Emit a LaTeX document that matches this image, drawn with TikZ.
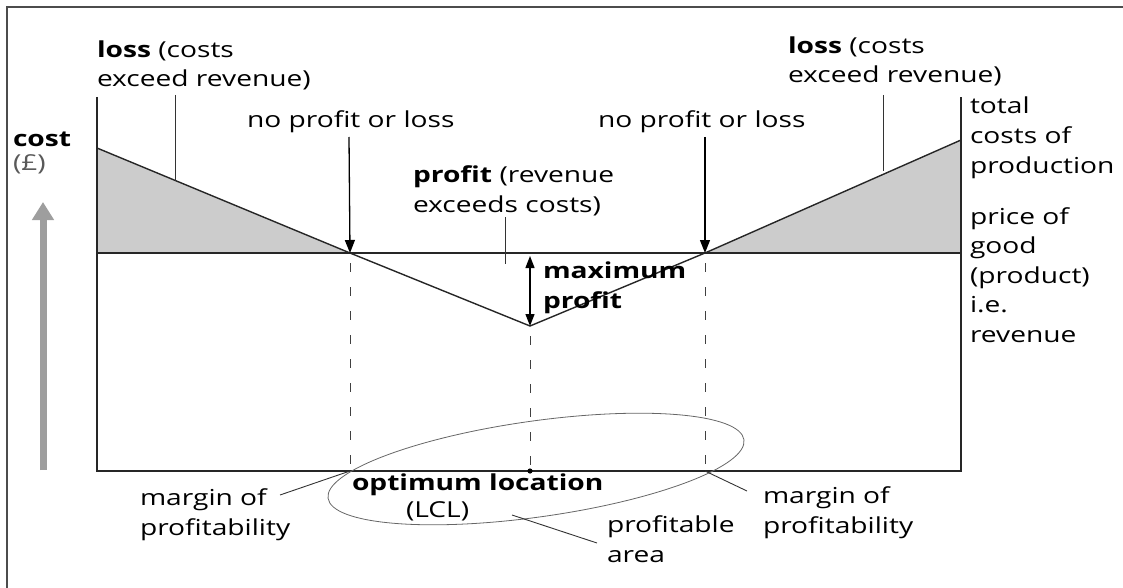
\documentclass[tikz,border=0pt]{standalone}
\usepackage{fontspec}
\setmainfont{Open Sans}[FakeStretch=1.28]
\usetikzlibrary{arrows.meta}
\begin{document}
\begin{tikzpicture}[x=1pt,y=-1pt,
  every node/.style={inner sep=0pt,outer sep=0pt,font=\fontsize{22}{29.5}\selectfont,align=left,anchor=base west},
  axisline/.style={line width=1.4pt,black!85},
  leader/.style={line width=0.9pt,black!80},
  callout/.style={line width=1.3pt,-{Triangle[width=10pt,length=13pt]}},
  guide/.style={line width=0.9pt,black!75,dash pattern=on 9pt off 15pt,dash phase=-10pt},
  lossfill/.style={fill=black!20}]
  \useasboundingbox (0,0) rectangle (1123,588);

  % outer frame
  \draw[line width=1.2pt,black!70] (7,588) -- (7,7) -- (1123,7);

  % key points of the diagram
  \coordinate (AxL) at (97,97);
  \coordinate (AxR) at (961,97);
  \coordinate (TL) at (97,148);
  \coordinate (TR) at (961,140);
  \coordinate (RL) at (97,253);
  \coordinate (RR) at (961,253);
  \coordinate (BE1) at (350,253);
  \coordinate (BE2) at (705,253);
  \coordinate (MIN) at (530,326);
  \coordinate (BL) at (97,471);
  \coordinate (BR) at (961,471);
  \coordinate (M1) at (350,471);
  \coordinate (M2) at (530,471);
  \coordinate (M3) at (705,471);

  % loss triangles
  \fill[lossfill] (TL) -- (BE1) -- (RL) -- cycle;
  \fill[lossfill] (BE2) -- (TR) -- (RR) -- cycle;

  % frame of the graph
  \draw[axisline] (AxL) -- (BL) -- (BR) -- (AxR);
  % revenue line
  \draw[axisline] (RL) -- (RR);
  % total cost curve
  \draw[axisline] (TL) -- (BE1) -- (MIN) -- (BE2) -- (TR);

  % guide lines down to the location axis
  \draw[guide] (BE1) -- (M1);
  \draw[guide] (MIN) -- (M2);
  \draw[guide] (BE2) -- (M3);
  \fill (M2) circle (2.6pt);

  % cost axis arrow
  \coordinate (CA0) at (43,470);
  \coordinate (CA1) at (43,202);
  \draw[line width=7pt,black!38,-{Triangle[width=21pt,length=18pt]}] (CA0) -- (CA1);
  \node (cost) at (13,147) {\bfseries cost};
  \node[text=black!65] (pound) at (13,171) {(£)};

  % loss labels (node positions give the baseline of the last line)
  \node (lossL) at (97,87) {\bfseries loss\mdseries{} (costs\\exceed revenue)};
  \coordinate (lossLa) at (175,95);
  \coordinate (lossLb) at (175,181);
  \draw[leader] (lossLa) -- (lossLb);

  \node (lossR) at (788,83) {\bfseries loss\mdseries{} (costs\\exceed revenue)};
  \coordinate (lossRa) at (883,95);
  \coordinate (lossRb) at (883,171);
  \draw[leader] (lossRa) -- (lossRb);

  % break-even labels
  \node (beL) at (247,128) {no profit or loss};
  \coordinate (beLa) at (349,137);
  \draw[callout] (beLa) -- (BE1);
  \node (beR) at (598,128) {no profit or loss};
  \coordinate (beRa) at (705,137);
  \draw[callout] (beRa) -- (BE2);

  % profit label
  \node (profit) at (413,212) {\bfseries profit\mdseries{} (revenue\\exceeds costs)};
  \coordinate (prA) at (505,217);
  \coordinate (prB) at (505,264);
  \draw[leader] (prA) -- (prB);

  % maximum profit
  \coordinate (mpA) at (530,256);
  \draw[line width=1.3pt,{Triangle[width=9pt,length=12pt]}-{Triangle[width=9pt,length=12pt]}] (mpA) -- (MIN);
  \node (maxp) at (543,308) {\bfseries maximum\\\bfseries profit};

  % right-hand labels
  \node (tcp) at (970,173) {total\\costs of\\production};
  \node (price) at (970,342) {price of\\good\\(product)\\i.e.\\revenue};

  % profitable area
  \draw[line width=0.8pt,black!60] (536,469) [rotate around={8:(536,469)}] ellipse [x radius=210, y radius=48];

  % bottom labels
  \node (margL) at (140,535) {margin of\\profitability};
  \coordinate (mLa) at (280,495);
  \draw[leader] (mLa) -- (M1);

  \node (opt) at (352,490) {\bfseries optimum location};
  \node (lcl) at (406,517) {(LCL)};

  \node (area) at (607,562) {profitable\\area};
  \coordinate (arA) at (512,515);
  \coordinate (arB) at (597,543);
  \draw[leader] (arA) -- (arB);

  \node (margR) at (763,533) {margin of\\profitability};
  \coordinate (mRb) at (747,491);
  \draw[leader] (M3) -- (mRb);
\end{tikzpicture}
\end{document}
